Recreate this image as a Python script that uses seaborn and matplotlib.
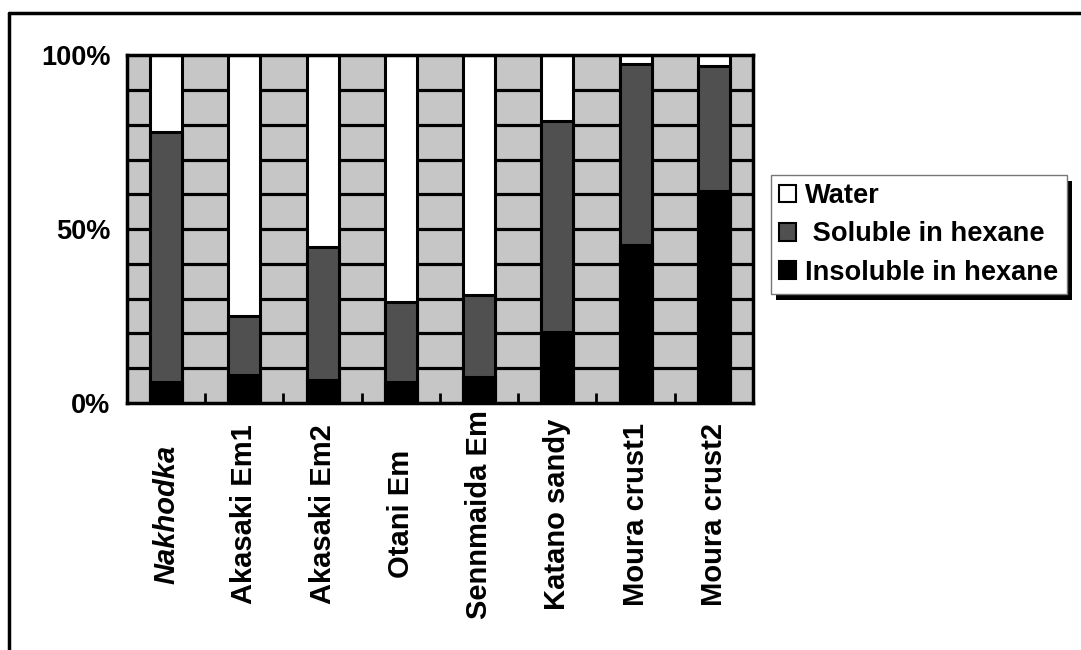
import numpy as np
import pandas as pd
import matplotlib
matplotlib.use("Agg")
import matplotlib.pyplot as plt
import seaborn as sns
from matplotlib.patches import Patch, Rectangle
from matplotlib.lines import Line2D

# Composition of each sample (% of total)
samples = ['Nakhodka', 'Akasaki Em1', 'Akasaki Em2', 'Otani Em',
           'Sennmaida Em', 'Katano sandy', 'Moura crust1', 'Moura crust2']
insoluble = [6, 8, 6.5, 6, 7.5, 20.5, 45.5, 61]
soluble = [72, 17, 38.5, 23, 23.5, 60.5, 52, 36]
water = [22, 75, 55, 71, 69, 19, 2.5, 3]

df = pd.DataFrame({'sample': samples, 'insoluble': insoluble,
                   'soluble': soluble, 'water': water})
df['top_water'] = df['insoluble'] + df['soluble'] + df['water']
df['top_soluble'] = df['insoluble'] + df['soluble']

sns.set_theme(style='white')
plt.rcParams['font.family'] = ['Liberation Sans', 'DejaVu Sans']
plt.rcParams['text.color'] = 'black'
plt.rcParams['xtick.color'] = 'black'
plt.rcParams['ytick.color'] = 'black'

fig = plt.figure(figsize=(10.81, 6.5), dpi=100)
ax = fig.add_axes([0.1175, 0.38, 0.579, 0.535])
ax.set_facecolor('#c6c6c6')

bar_w = 0.41
for col, color in [('top_water', 'white'), ('top_soluble', '#505050'), ('insoluble', 'black')]:
    sns.barplot(data=df, x='sample', y=col, color=color, width=bar_w,
                edgecolor='black', linewidth=2.2, saturation=1, ax=ax, zorder=3)

ax.set_ylim(0, 100)
ax.set_xlim(-0.5, len(samples) - 0.5)
ax.set_yticks([0, 50, 100])
ax.set_yticklabels(['0%', '50%', '100%'], fontweight='bold', fontsize=19.5)
for y in range(10, 100, 10):
    ax.axhline(y, color='black', lw=2.3, zorder=1)

ax.set_xticks(range(len(samples)))
ax.set_xticklabels(samples, rotation=90, va='center', fontweight='bold', fontsize=21)
ax.get_xticklabels()[0].set_style('italic')
ax.set_xticks(np.arange(0.5, len(samples) - 0.5, 1), minor=True)
ax.tick_params(axis='x', which='major', length=0, pad=80)
ax.tick_params(axis='x', which='minor', direction='in', length=7, width=2, color='black', bottom=True)
ax.tick_params(axis='y', length=0, pad=12)
ax.set_xlabel('')
ax.set_ylabel('')
for s in ax.spines.values():
    s.set_visible(True)
    s.set_color('black')
    s.set_linewidth(2.5)
    s.set_zorder(5)

handles = [Patch(facecolor='white', edgecolor='black', lw=1.5, label='Water'),
           Patch(facecolor='#505050', edgecolor='black', lw=1.5, label=' Soluble in hexane'),
           Patch(facecolor='black', edgecolor='black', lw=1.5, label='Insoluble in hexane')]
leg = fig.legend(handles=handles, loc='upper left', bbox_to_anchor=(0.713, 0.731),
                 prop={'size': 19.6, 'weight': 'bold'}, frameon=True, fancybox=False,
                 facecolor='white', framealpha=1,
                 handlelength=0.62, handleheight=0.62, handletextpad=0.35, labelspacing=0.45,
                 borderpad=0.3, borderaxespad=0)
leg.get_frame().set_edgecolor('#777777')
leg.get_frame().set_linewidth(1)
leg.set_zorder(6)

# solid shadow under the legend box
fig.canvas.draw()
bb = leg.get_window_extent().transformed(fig.transFigure.inverted())
dx, dy = 5 / 1081, 6 / 650
fig.add_artist(Rectangle((bb.x0 + dx, bb.y0 - dy), bb.width, bb.height,
                         transform=fig.transFigure, facecolor='black', edgecolor='none', zorder=5))

# outer frame (top and left only)
fig.add_artist(Line2D([0.0085, 0.0085], [0, 0.98], transform=fig.transFigure, color='black', lw=2.5))
fig.add_artist(Line2D([0.0085, 1.0], [0.98, 0.98], transform=fig.transFigure, color='black', lw=2.5))

fig.savefig('out.png', dpi=100)
